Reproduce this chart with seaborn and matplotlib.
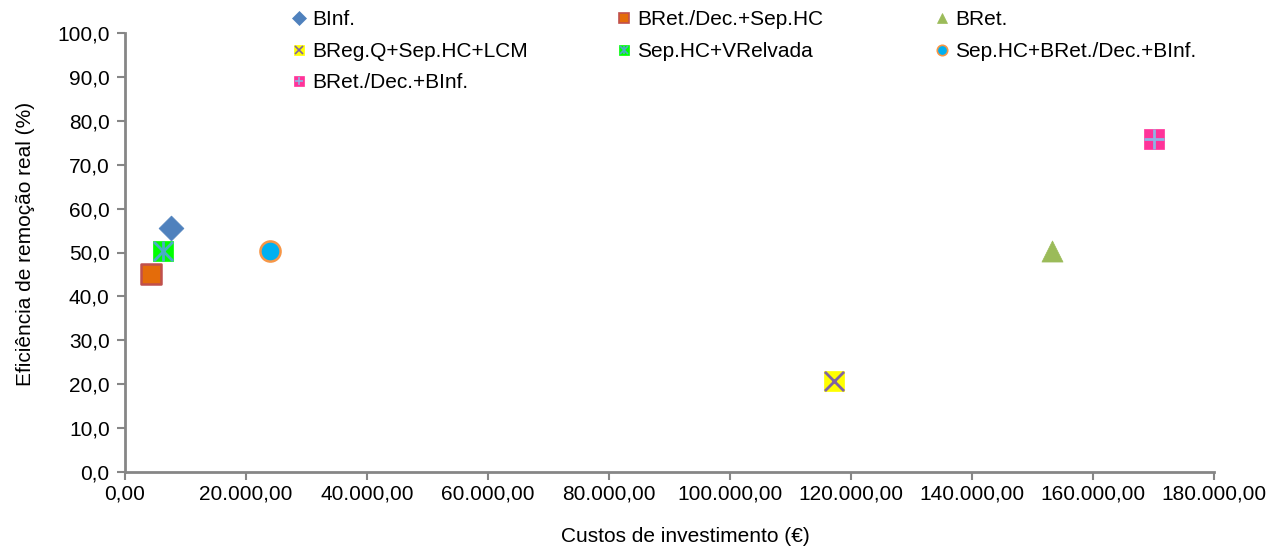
import matplotlib
matplotlib.use("Agg")
import matplotlib.pyplot as plt
import seaborn as sns
from matplotlib.ticker import FuncFormatter
from matplotlib.legend_handler import HandlerTuple
from matplotlib.lines import Line2D

sns.set_style("white")
plt.rcParams["font.family"] = ["Liberation Sans", "DejaVu Sans"]
plt.rcParams["text.color"] = "black"
plt.rcParams["axes.labelcolor"] = "black"
plt.rcParams["xtick.color"] = "black"
plt.rcParams["ytick.color"] = "black"

# data
series = ["BInf.", "BRet./Dec.+Sep.HC", "BRet.", "BReg.Q+Sep.HC+LCM",
          "Sep.HC+VRelvada", "Sep.HC+BRet./Dec.+BInf.", "BRet./Dec.+BInf."]
custos = [7600, 4300, 153200, 117200, 6300, 24000, 170000]
eficiencia = [55.6, 45.1, 50.3, 20.7, 50.3, 50.3, 75.9]

# marker styles: (marker, face, edge, overlay marker, overlay colour)
styles = [
    ("D", "#4F81BD", "#4F81BD", None, None),
    ("s", "#E46C0A", "#C0504D", None, None),
    ("^", "#9BBB59", "#9BBB59", None, None),
    ("s", "#FFFF00", "#FFFF00", "x", "#8064A2"),
    ("s", "#00FF00", "#00FF00", "*x", "#4BACC6"),
    ("o", "#00B0F0", "#F79646", None, None),
    ("s", "#FF3399", "#FF3399", "+", "#8EB4E3"),
]
sizes = {"D": 160, "s": 190, "^": 230, "o": 210}
FS = 15

fig = plt.figure(figsize=(12.82, 5.52), dpi=100)
ax = fig.add_axes([125 / 1282, 80 / 552, 1089 / 1282, 439 / 552])

handles = []
for name, x, y, (m, fc, ec, ov, oc) in zip(series, custos, eficiencia, styles):
    sns.scatterplot(x=[x], y=[y], ax=ax, marker=m, s=sizes[m], color=fc,
                    edgecolor=ec, linewidth=1.8 if ec != fc else 0.5, zorder=3)
    h = [Line2D([], [], ls="", marker=m, markersize=7.5, markerfacecolor=fc,
                markeredgecolor=ec, markeredgewidth=1.2 if ec != fc else 0.5)]
    if ov:
        parts = ["x", "|"] if ov == "*x" else [ov]
        for p in parts:
            sns.scatterplot(x=[x], y=[y], ax=ax, marker=p, s=190, color=oc,
                            linewidth=2, zorder=4)
            h.append(Line2D([], [], ls="", marker=p, markersize=6,
                            markeredgecolor=oc, markeredgewidth=1.2))
    handles.append(tuple(h))

ax.set_xlim(0, 180000)
ax.set_ylim(0, 100)
ax.set_xticks(range(0, 180001, 20000))
ax.set_yticks(range(0, 101, 10))

def fmt_x(v, pos):
    return f"{v:,.2f}".replace(",", " ").replace(".", ",").replace(" ", ".")

ax.xaxis.set_major_formatter(FuncFormatter(fmt_x))
ax.yaxis.set_major_formatter(FuncFormatter(lambda v, p: f"{v:.1f}".replace(".", ",")))
ax.tick_params(axis="both", labelsize=FS, length=6, width=1.5, color="#868686",
               direction="out", left=True, bottom=True, pad=3)
ax.tick_params(axis="y", pad=5)

for side in ["top", "right"]:
    ax.spines[side].set_visible(False)
for side in ["left", "bottom"]:
    ax.spines[side].set_color("#868686")
    ax.spines[side].set_linewidth(2)

ax.set_xlabel("Custos de investimento (€)", fontsize=FS, labelpad=17)
ax.xaxis.label.set_x(0.515)
ax.set_ylabel("Eficiência de remoção real (%)", fontsize=FS, labelpad=16)
ax.yaxis.label.set_y(0.52)

# legend in three columns, each placed separately
columns = [[0, 3, 6], [1, 4], [2, 5]]
col_x = [281, 606, 924]
for idx, cx in zip(columns, col_x):
    fig.legend([handles[i] for i in idx], [series[i] for i in idx],
               handler_map={tuple: HandlerTuple(ndivide=1, pad=0)},
               loc="upper left", bbox_to_anchor=(cx / 1282, 1.0),
               frameon=False, fontsize=FS, handlelength=0.7, handletextpad=0.3,
               labelspacing=0.6, borderaxespad=0.3, borderpad=0.2)

fig.savefig("out.png", dpi=100)
